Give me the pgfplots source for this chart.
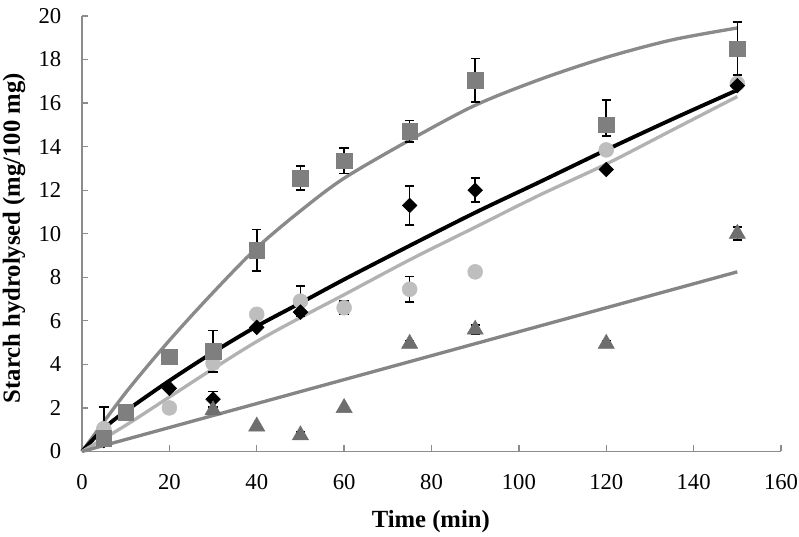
\documentclass[border=0pt]{standalone}
\usepackage{fontspec}
\setmainfont{Liberation Serif}
\usepackage{pgfplots}
\pgfplotsset{compat=1.18}
\definecolor{axisgray}{HTML}{8C8C8C}
\definecolor{sqfill}{HTML}{7F7F7F}
\definecolor{sqline}{HTML}{8A8A8A}
\definecolor{cifill}{HTML}{BEBEBE}
\definecolor{ciline}{HTML}{B2B2B2}
\definecolor{trfill}{HTML}{6E6E6E}
\definecolor{trline}{HTML}{858585}
\begin{document}
\begin{tikzpicture}
\path[use as bounding box] (-61.5pt,-63.4pt) rectangle (537.75pt,338.6pt);
\begin{axis}[
  at={(0,0)}, anchor=south west, scale only axis,
  width=524.25pt, height=326.6pt,
  xmin=0, xmax=160, ymin=0, ymax=20,
  xtick={0,20,...,160}, ytick={0,2,...,20},
  axis x line*=bottom, axis y line*=left,
  axis line style={draw=axisgray, line width=1pt},
  tick style={draw=axisgray, line width=1pt},
  major tick length=4.5pt, tick align=inside,
  /pgf/number format/assume math mode=true,
  ticklabel style={font=\fontsize{17}{20}\selectfont},
  xticklabel style={inner sep=0pt, anchor=north, yshift=-16.9pt},
  yticklabel style={inner sep=0pt, anchor=east, xshift=-15.4pt},
  xlabel={Time (min)},
  ylabel={Starch hydrolysed (mg/100 mg)},
  label style={font=\fontsize{18.5}{22}\selectfont\bfseries},
  xlabel style={at={(axis description cs:0.499,-0.16)}, anchor=center},
  ylabel style={at={(axis description cs:-0.0973,0.49)}, anchor=center},
  clip=false,
]
% fitted curves
\addplot[no marks, draw=sqline, line width=2.5pt, smooth] coordinates {
 (0,0) (10,2.7) (20,5.1) (30,7.3) (40,9.35) (50,11.05) (60,12.55) (75,14.3) (90,15.9) (105,17.1) (120,18.1) (135,18.9) (150,19.45)};
\addplot[no marks, draw=black, line width=2.9pt, smooth] coordinates {
 (0,0) (5,1.06) (10,1.85) (20,3.25) (30,4.55) (40,5.75) (50,6.82) (60,7.9) (75,9.45) (90,10.97) (105,12.4) (120,13.85) (135,15.25) (150,16.6)};
\addplot[no marks, draw=ciline, line width=2.5pt, smooth] coordinates {
 (0,0) (10,1.2) (20,2.5) (30,3.8) (40,5.05) (50,6.15) (60,7.2) (75,8.8) (90,10.3) (105,11.8) (120,13.2) (135,14.75) (150,16.3)};
\addplot[no marks, draw=trline, line width=2.5pt] coordinates {
 (0,0) (150,8.25)};
% error bars
\pgfplotsset{ebars/.style={draw=none, mark=none,
  error bars/.cd, y dir=both, y explicit,
  error bar style={draw=black, line width=1.2pt},
  error mark options={draw=black, rotate=90, mark size=3.5pt, line width=1.2pt}}}
\addplot[ebars] coordinates {
 (20,4.35) +- (0,0.1) (30,4.6) +- (0,0.95) (40,9.25) +- (0,0.95) (50,12.55) +- (0,0.55)
 (60,13.35) +- (0,0.58) (75,14.7) +- (0,0.5) (90,17.05) +- (0,1.0)
 (120,15.0) += (0,1.15) -= (0,0.5) (150,18.5) +- (0,1.22)};
\addplot[ebars] coordinates {
 (30,2.4) +- (0,0.35) (75,11.3) +- (0,0.9) (90,12.0) +- (0,0.55)};
\addplot[ebars] coordinates {
 (5,1.05) += (0,1.0) -= (0,0.3) (40,6.3) +- (0,0.2) (50,6.9) +- (0,0.7) (60,6.6) +- (0,0.3) (75,7.45) +- (0,0.58)};
\addplot[ebars] coordinates {
 (50,0.75) +- (0,0.15) (75,4.95) +- (0,0.15) (90,5.6) +- (0,0.2) (120,4.95) +- (0,0.15) (150,10.0) +- (0,0.3)};
% markers
\addplot[only marks, mark=*, mark size=5.6pt, mark options={draw=cifill, fill=cifill}] coordinates {
 (5,1.05) (20,2.0) (30,4.05) (40,6.3) (50,6.9) (60,6.6) (75,7.45) (90,8.25) (120,13.85) (150,16.9)};
\addplot[only marks, mark=diamond*, mark size=5.5pt, mark options={draw=black, fill=black, xscale=1.33}] coordinates {
 (5,0.5) (20,2.9) (30,2.4) (40,5.7) (50,6.4) (75,11.3) (90,12.0) (120,12.95) (150,16.8)};
\addplot[only marks, mark=square*, mark size=5.9pt, mark options={draw=sqfill, fill=sqfill}] coordinates {
 (5,0.6) (10,1.8) (20,4.35) (30,4.6) (40,9.25) (50,12.55) (60,13.35) (75,14.7) (90,17.05) (120,15.0) (150,18.5)};
\addplot[only marks, mark=triangle*, mark size=7pt, mark options={draw=trfill, fill=trfill}] coordinates {
 (30,1.9) (40,1.15) (50,0.75) (60,2.0) (75,4.95) (90,5.6) (120,4.95) (150,10.0)};
\end{axis}
\end{tikzpicture}
\end{document}
